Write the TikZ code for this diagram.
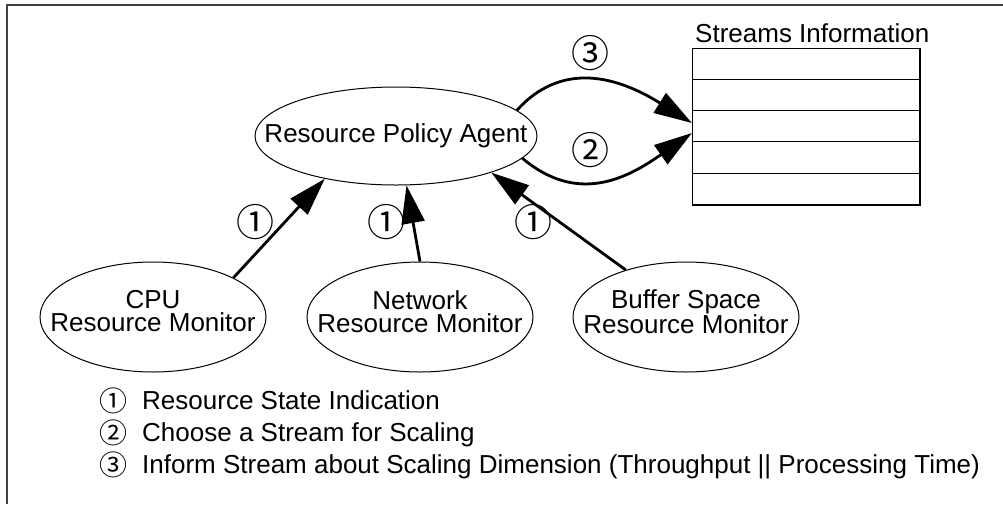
\documentclass[tikz,border=0pt]{standalone}
\usepackage{fontspec}
\setmainfont{Liberation Sans}
\newfontfamily\symfont{Noto Sans CJK JP}
\usetikzlibrary{shapes.geometric,arrows.meta,calc}
\begin{document}
\begin{tikzpicture}[x=1pt,y=1pt,
  font=\fontsize{26}{23}\selectfont,
  oval/.style={ellipse,draw,line width=1pt,inner sep=0pt},
  monitor/.style={oval,minimum width=226,minimum height=110},
  ctext/.style={align=center,inner sep=0pt},
  mlabel/.style={ctext,yshift=5.5pt},
  flow/.style={line width=2.8pt,-{Triangle[length=38pt,width=23pt]}},
  num/.style={font=\symfont\fontsize{38}{38}\selectfont,inner sep=0pt},
  lnum/.style={font=\symfont\fontsize{28}{28}\selectfont,inner sep=0pt},
  ltext/.style={anchor=base west,inner sep=0pt},
]
\useasboundingbox (0,0) rectangle (1003,-504);
% frame
\draw[line width=1.5pt,black!75] (7,-504) -- (7,-5) -- (1003,-5);

% table
\node[draw,line width=1.2pt,minimum width=227.5,minimum height=156.5,inner sep=0pt] (tbl) at (806.25,-126.75) {};
\foreach \k in {1,2,3,4}
  \draw[line width=1.2pt] ($(tbl.north west)+(0,-31.3*\k)$) -- ($(tbl.north east)+(0,-31.3*\k)$);
\node[ltext] (title) at (695,-42) {Streams Information};

% agent and monitors
\node[oval,minimum width=282,minimum height=98,label={[ctext]center:Resource Policy Agent}] (rpa) at (396,-136) {};
\node[monitor,label={[mlabel]center:CPU\\Resource Monitor}] (cpu) at (153,-317) {};
\node[monitor,label={[mlabel]center:Network\\Resource Monitor}] (net) at (420,-317) {};
\node[monitor,label={[mlabel]center:Buffer Space\\Resource Monitor}] (buf) at (686,-317) {};

% arrows 1
\draw[flow] (cpu.26.6) -- (rpa.211.6);
\draw[flow] (net.north) -- (rpa.282);
\draw[flow] (buf.142) -- (rpa.-21);

% arrows 2 and 3
\draw[flow] (rpa.12.5) .. controls +(48:74) and +(148:76) .. ([yshift=3.75pt]tbl.west);
\draw[flow] (rpa.-10.8) .. controls +(-40:72) and +(215:80) .. ([yshift=-6.25pt]tbl.west);

% labels on arrows
\node[num] (n1a) at (255,-222) {①};
\node[num] (n1b) at (386,-222) {①};
\node[num] (n1c) at (533,-222) {①};
\node[num] (n2) at (590,-150) {②};
\node[num] (n3) at (590,-53) {③};

% legend
\node[lnum] (l1) at (113.5,-400.5) {①};
\node[lnum] (l2) at (113.5,-432.5) {②};
\node[lnum] (l3) at (113.5,-464.5) {③};
\node[ltext] (t1) at (142,-409) {Resource State Indication};
\node[ltext] (t2) at (142,-441) {Choose a Stream for Scaling};
\node[ltext] (t3) at (142,-473) {Inform Stream about Scaling Dimension (Throughput || Processing Time)};
\end{tikzpicture}
\end{document}
